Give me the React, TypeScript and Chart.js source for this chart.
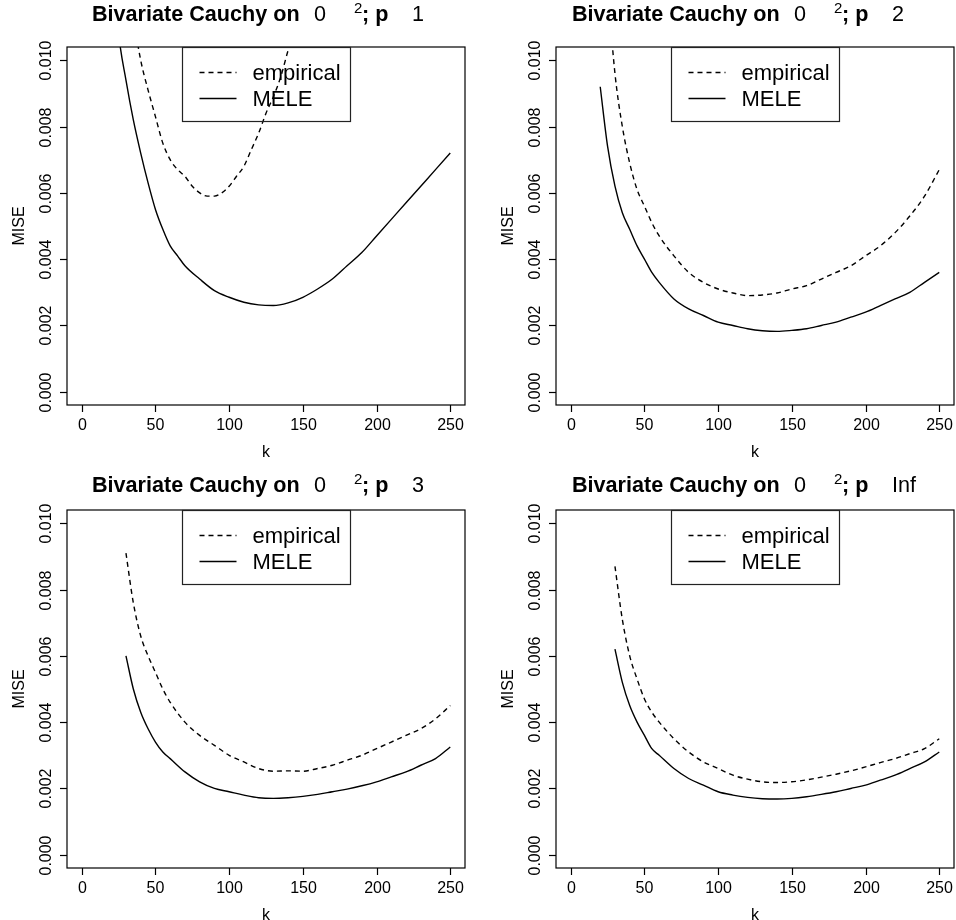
import React, { useEffect, useRef } from "react";
import { Chart, registerables } from "chart.js";

Chart.register(...registerables);

// ---------- data ----------
const kTicks = [0, 50, 100, 150, 200, 250];
const kTickLabels = ["0", "50", "100", "150", "200", "250"];
const miseTicks = [0, 0.002, 0.004, 0.006, 0.008, 0.01];
const miseTickLabels = ["0.000", "0.002", "0.004", "0.006", "0.008", "0.010"];
const legendLabels = ["empirical", "MELE"];
const pLabels = ["1", "2", "3", "Inf"];

// panel 1 (p = 1)
const p1EmpK = [35, 40, 45, 50, 55, 60, 65, 70, 75, 80, 85, 90, 95, 100, 105, 110, 115, 120, 125, 130, 135, 140, 145];
const p1Emp = [0.0113, 0.01, 0.0091, 0.0083, 0.0075, 0.007, 0.0067, 0.0065, 0.0062, 0.006, 0.0059, 0.0059, 0.006, 0.0062, 0.0065, 0.0068, 0.0073, 0.0078, 0.0084, 0.0089, 0.0095, 0.0103, 0.011];
const p1MeleK = [20, 25, 30, 35, 40, 45, 50, 55, 60, 65, 70, 80, 90, 100, 110, 120, 130, 140, 150, 160, 170, 180, 190, 200, 210, 220, 230, 240, 250];
const p1Mele = [0.0135, 0.0108, 0.0094, 0.0082, 0.0072, 0.0063, 0.0055, 0.0049, 0.0044, 0.0041, 0.0038, 0.0034, 0.00305, 0.00285, 0.0027, 0.00262, 0.0026, 0.00268, 0.00285, 0.0031, 0.0034, 0.0038, 0.0042, 0.0047, 0.0052, 0.0057, 0.0062, 0.0067, 0.0072];

// panel 2 (p = 2)
const p2EmpK = [25, 30, 35, 40, 45, 50, 55, 60, 70, 80, 90, 100, 110, 120, 130, 140, 150, 160, 170, 180, 190, 200, 210, 220, 230, 240, 250];
const p2Emp = [0.0122, 0.0096, 0.008, 0.0069, 0.0061, 0.0056, 0.0051, 0.0047, 0.0041, 0.0036, 0.0033, 0.0031, 0.00298, 0.0029, 0.00292, 0.00298, 0.0031, 0.0032, 0.0034, 0.0036, 0.0038, 0.0041, 0.0044, 0.0048, 0.0053, 0.0059, 0.0067];
const p2MeleK = [20, 25, 30, 35, 40, 45, 50, 55, 60, 70, 80, 90, 100, 110, 120, 130, 140, 150, 160, 170, 180, 190, 200, 210, 220, 230, 240, 250];
const p2Mele = [0.0092, 0.0074, 0.0062, 0.0054, 0.0049, 0.0044, 0.004, 0.0036, 0.0033, 0.0028, 0.0025, 0.0023, 0.0021, 0.002, 0.0019, 0.00184, 0.00182, 0.00185, 0.0019, 0.002, 0.0021, 0.00225, 0.0024, 0.0026, 0.0028, 0.003, 0.0033, 0.0036];

// panel 3 (p = 3)
const p3K = [30, 35, 40, 45, 50, 55, 60, 70, 80, 90, 100, 110, 120, 130, 140, 150, 160, 170, 180, 190, 200, 210, 220, 230, 240, 250];
const p3Emp = [0.0091, 0.0076, 0.0066, 0.006, 0.0055, 0.005, 0.0046, 0.004, 0.0036, 0.0033, 0.003, 0.0028, 0.0026, 0.00252, 0.00253, 0.00252, 0.0026, 0.0027, 0.00285, 0.003, 0.0032, 0.0034, 0.0036, 0.0038, 0.0041, 0.0045];
const p3Mele = [0.006, 0.005, 0.0043, 0.0038, 0.0034, 0.0031, 0.0029, 0.0025, 0.0022, 0.002, 0.0019, 0.0018, 0.00172, 0.0017, 0.00172, 0.00176, 0.00182, 0.0019, 0.00198, 0.00208, 0.0022, 0.00235, 0.0025, 0.0027, 0.0029, 0.00325];

// panel 4 (p = Inf)
const p4K = [30, 35, 40, 45, 50, 55, 60, 70, 80, 90, 100, 110, 120, 130, 140, 150, 160, 170, 180, 190, 200, 210, 220, 230, 240, 250];
const p4Emp = [0.0087, 0.0071, 0.006, 0.0053, 0.0047, 0.0043, 0.004, 0.0035, 0.0031, 0.0028, 0.0026, 0.0024, 0.00228, 0.0022, 0.00218, 0.0022, 0.00226, 0.00234, 0.00243, 0.00253, 0.00265, 0.00278, 0.0029, 0.00305, 0.0032, 0.0035];
const p4Mele = [0.0062, 0.0052, 0.0045, 0.004, 0.0036, 0.0032, 0.003, 0.0026, 0.0023, 0.0021, 0.0019, 0.0018, 0.00173, 0.00169, 0.00168, 0.0017, 0.00175, 0.00182, 0.0019, 0.002, 0.0021, 0.00225, 0.0024, 0.0026, 0.0028, 0.0031];

// ---------- layout ----------
const FONT = "'Liberation Sans', Arial, Helvetica, sans-serif";

type PanelCfg = {
  empK: number[];
  emp: number[];
  meleK: number[];
  mele: number[];
  p: string;
  left: number;
  top: number;
  areaLeft: number;
  padRight: number;
  padTop: number;
  axisBottom: number;
  titleX: number;
  titleY: number;
};

const panels: PanelCfg[] = [
  { empK: p1EmpK, emp: p1Emp, meleK: p1MeleK, mele: p1Mele, p: pLabels[0], left: 0, top: 0, areaLeft: 67, padRight: 13, padTop: 47, axisBottom: 55, titleX: 92, titleY: 20.5 },
  { empK: p2EmpK, emp: p2Emp, meleK: p2MeleK, mele: p2Mele, p: pLabels[1], left: 478, top: 0, areaLeft: 78, padRight: 2, padTop: 47, axisBottom: 55, titleX: 94, titleY: 20.5 },
  { empK: p3K, emp: p3Emp, meleK: p3K, mele: p3Mele, p: pLabels[2], left: 0, top: 460, areaLeft: 67, padRight: 13, padTop: 50, axisBottom: 52, titleX: 92, titleY: 32 },
  { empK: p4K, emp: p4Emp, meleK: p4K, mele: p4Mele, p: pLabels[3], left: 478, top: 460, areaLeft: 78, padRight: 2, padTop: 50, axisBottom: 52, titleX: 94, titleY: 32 },
];

const DASH = [5, 4];
const LW = 1.4;

function makeDecor(cfg: PanelCfg) {
  return {
    id: "decor",
    afterDraw(chart: any) {
      const { ctx, chartArea: a } = chart;
      const xs = chart.scales.x;
      const ys = chart.scales.y;
      ctx.save();
      ctx.strokeStyle = "#000";
      ctx.fillStyle = "#000";
      ctx.lineWidth = 1.2;
      ctx.setLineDash([]);
      // box
      ctx.strokeRect(a.left, a.top, a.right - a.left, a.bottom - a.top);

      // x ticks + labels
      ctx.font = `16px ${FONT}`;
      ctx.textAlign = "center";
      ctx.textBaseline = "alphabetic";
      kTicks.forEach((t, i) => {
        const px = Math.round(xs.getPixelForValue(t)) + 0.5;
        ctx.beginPath();
        ctx.moveTo(px, a.bottom);
        ctx.lineTo(px, a.bottom + 7);
        ctx.stroke();
        ctx.fillText(kTickLabels[i], px, a.bottom + 25);
      });
      ctx.fillText("k", (a.left + a.right) / 2, a.bottom + 52);

      // y ticks + rotated labels
      miseTicks.forEach((t, i) => {
        const py = Math.round(ys.getPixelForValue(t)) + 0.5;
        ctx.beginPath();
        ctx.moveTo(a.left, py);
        ctx.lineTo(a.left - 7, py);
        ctx.stroke();
        ctx.save();
        ctx.translate(a.left - 16, py);
        ctx.rotate(-Math.PI / 2);
        ctx.fillText(miseTickLabels[i], 0, 0);
        ctx.restore();
      });
      ctx.save();
      ctx.translate(a.left - 43, (a.top + a.bottom) / 2);
      ctx.rotate(-Math.PI / 2);
      ctx.fillText("MISE", 0, 0);
      ctx.restore();

      // title
      ctx.textAlign = "left";
      const tx = cfg.titleX;
      const ty = cfg.titleY;
      ctx.font = `bold 21.6px ${FONT}`;
      ctx.fillText("Bivariate Cauchy on", tx, ty);
      ctx.font = `21.6px ${FONT}`;
      ctx.fillText("0", tx + 222, ty);
      ctx.font = `15px ${FONT}`;
      ctx.fillText("2", tx + 262, ty - 8);
      ctx.font = `bold 21.6px ${FONT}`;
      ctx.fillText("; p", tx + 270, ty);
      ctx.font = `21.6px ${FONT}`;
      ctx.fillText(cfg.p, tx + 320, ty);

      // legend (transparent background, like R's legend)
      const cx = (a.left + a.right) / 2;
      const lw = 168;
      const lh = 74;
      const lx = Math.round(cx - lw / 2) + 0.5;
      const ly = Math.round(a.top) + 0.5;
      ctx.strokeStyle = "#222";
      ctx.lineWidth = 1.2;
      ctx.strokeRect(lx, ly, lw, lh);
      ctx.strokeStyle = "#000";
      ctx.fillStyle = "#000";
      ctx.lineWidth = LW;
      const rows = [ly + 25, ly + 51];
      rows.forEach((ry, i) => {
        ctx.setLineDash(i === 0 ? DASH : []);
        ctx.beginPath();
        ctx.moveTo(lx + 17, ry);
        ctx.lineTo(lx + 54, ry);
        ctx.stroke();
        ctx.setLineDash([]);
        ctx.font = `22px ${FONT}`;
        ctx.textBaseline = "middle";
        ctx.fillText(legendLabels[i], lx + 70, ry + 1);
      });
      ctx.restore();
    },
  };
}

function Panel({ cfg }: { cfg: PanelCfg }) {
  const ref = useRef<HTMLCanvasElement | null>(null);
  useEffect(() => {
    if (!ref.current) return;
    const chart = new Chart(ref.current, {
      type: "line",
      data: {
        datasets: [
          {
            label: legendLabels[0],
            data: cfg.empK.map((k, i) => ({ x: k, y: cfg.emp[i] })),
            borderColor: "#000",
            borderWidth: LW,
            borderDash: DASH,
            pointRadius: 0,
            cubicInterpolationMode: "monotone",
            fill: false,
            clip: 0,
          } as any,
          {
            label: legendLabels[1],
            data: cfg.meleK.map((k, i) => ({ x: k, y: cfg.mele[i] })),
            borderColor: "#000",
            borderWidth: LW,
            pointRadius: 0,
            cubicInterpolationMode: "monotone",
            fill: false,
            clip: 0,
          } as any,
        ],
      },
      options: {
        animation: false,
        responsive: false,
        maintainAspectRatio: false,
        events: [],
        layout: { padding: { left: 0, right: cfg.padRight, top: cfg.padTop, bottom: 0 } },
        plugins: { legend: { display: false }, title: { display: false }, tooltip: { enabled: false } },
        scales: {
          x: {
            type: "linear",
            min: -10,
            max: 260,
            grid: { display: false },
            border: { display: false },
            ticks: { display: false },
            afterFit: (s: any) => {
              s.height = cfg.axisBottom;
            },
          },
          y: {
            type: "linear",
            min: -0.0004,
            max: 0.0104,
            grid: { display: false },
            border: { display: false },
            ticks: { display: false },
            afterFit: (s: any) => {
              s.width = cfg.areaLeft;
            },
          },
        },
      },
      plugins: [makeDecor(cfg)],
    });
    return () => chart.destroy();
  }, [cfg]);
  return (
    <canvas
      ref={ref}
      width={478}
      height={460}
      style={{ position: "absolute", left: cfg.left, top: cfg.top, width: 478, height: 460 }}
    />
  );
}

export default function App() {
  return (
    <div style={{ position: "fixed", left: 0, top: 0, width: 956, height: 920, background: "#fff", overflow: "hidden" }}>
      {panels.map((p, i) => (
        <Panel key={i} cfg={p} />
      ))}
    </div>
  );
}
